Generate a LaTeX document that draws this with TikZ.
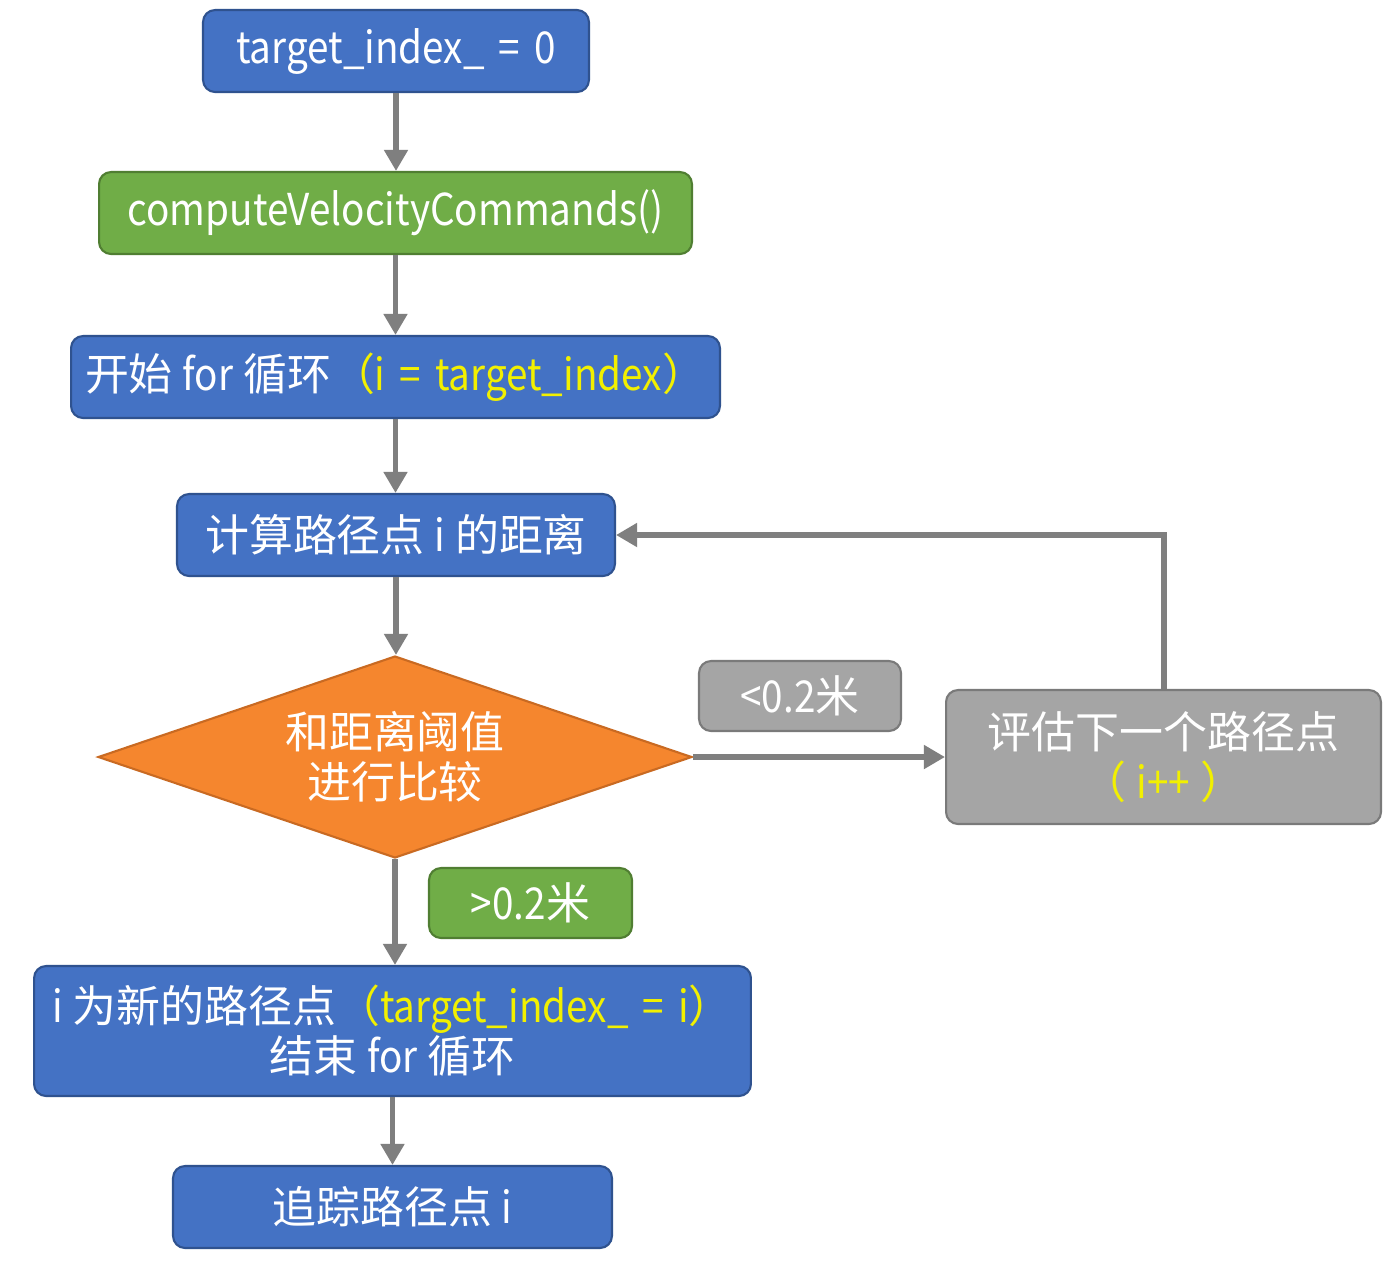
\documentclass[tikz,border=0pt]{standalone}
\usepackage{fontspec}
\setmainfont{Noto Sans CJK SC}
\newfontfamily\lat[FakeStretch=0.88]{Noto Sans CJK SC}
\newcommand\myeq{\hspace{0.32em}=\hspace{0.32em}}
\usetikzlibrary{shapes.geometric,arrows.meta}
\definecolor{bblue}{HTML}{4472C4}
\definecolor{bblueD}{HTML}{2F528F}
\definecolor{bgreen}{HTML}{70AD47}
\definecolor{bgreenD}{HTML}{507E32}
\definecolor{borange}{HTML}{F5862E}
\definecolor{borangeD}{HTML}{C96A22}
\definecolor{bgray}{HTML}{A5A5A5}
\definecolor{bgrayD}{HTML}{7A7A7A}
\definecolor{arrowgray}{HTML}{7F7F7F}
\definecolor{ytext}{HTML}{F2F000}
\begin{document}
\begin{tikzpicture}[x=0.02cm,y=-0.02cm,
  base/.style={rounded corners=0.24cm, line width=1.2pt, text=white,
    font=\fontsize{25}{28.5}\selectfont, align=center, inner sep=0pt},
  bluebox/.style={base, draw=bblueD, fill=bblue},
  greenbox/.style={base, draw=bgreenD, fill=bgreen},
  graybox/.style={base, draw=bgrayD, fill=bgray},
  decision/.style={diamond, draw=borangeD, fill=borange, line width=1.2pt, text=white,
    font=\fontsize{25}{28.5}\selectfont, align=center, inner sep=0pt, aspect=2.94},
  arr/.style={draw=arrowgray, line width=3.4pt, -{Triangle[length=12pt,width=13pt]}}
]
\useasboundingbox (0,0) rectangle (1388,1276);
\fill[white] (0,0) rectangle (1388,1276);

\node[bluebox, minimum width=7.72cm, minimum height=1.64cm] (b1) at (396,51) {\lat target\_index\_\myeq 0};
\node[greenbox, minimum width=11.86cm, minimum height=1.64cm] (b2) at (395.5,213) {\lat computeVelocityCommands()};
\node[bluebox, minimum width=12.98cm, minimum height=1.64cm] (b3) at (395.5,377) {开始 {\lat for} 循环\textcolor{ytext}{（{\lat i\myeq target\_index}）}};
\node[bluebox, minimum width=8.76cm, minimum height=1.64cm] (b4) at (396,535) {计算路径点 {\lat i} 的距离};
\node[decision, minimum width=11.88cm, minimum height=4.04cm] (d) at (395,757) {和距离阈值\\进行比较};
\node[bluebox, minimum width=14.34cm, minimum height=2.6cm] (b5) at (392.5,1031) {{\lat i} 为新的路径点\textcolor{ytext}{（{\lat target\_index\_\myeq i}）}\\结束 {\lat for} 循环};
\node[bluebox, minimum width=8.78cm, minimum height=1.64cm] (b6) at (392.5,1207) {追踪路径点 {\lat i}};
\node[graybox, minimum width=8.7cm, minimum height=2.68cm] (g) at (1163.5,757) {评估下一个路径点\\\textcolor{ytext}{（ {\lat i++} ）}};
\node[graybox, minimum width=4.04cm, minimum height=1.4cm] (lt) at (800,696) {{\lat <0.2}米};
\node[greenbox, minimum width=4.06cm, minimum height=1.4cm] (gt) at (530.5,903) {{\lat >0.2}米};

\draw[arr] (b1.south) -- (b1.south |- b2.north);
\draw[arr] (b2.south) -- (b2.south |- b3.north);
\draw[arr] (b3.south) -- (b3.south |- b4.north);
\draw[arr] (b4.south) -- (b4.south |- d.north);
\draw[arr] (d.south) -- (d.south |- b5.north);
\draw[arr] (b5.south) -- (b5.south |- b6.north);
\draw[arr] (d.east) -- (g.west);
\draw[arr] (g.north) -- (g.north |- b4.east) -- (b4.east);
\end{tikzpicture}
\end{document}
